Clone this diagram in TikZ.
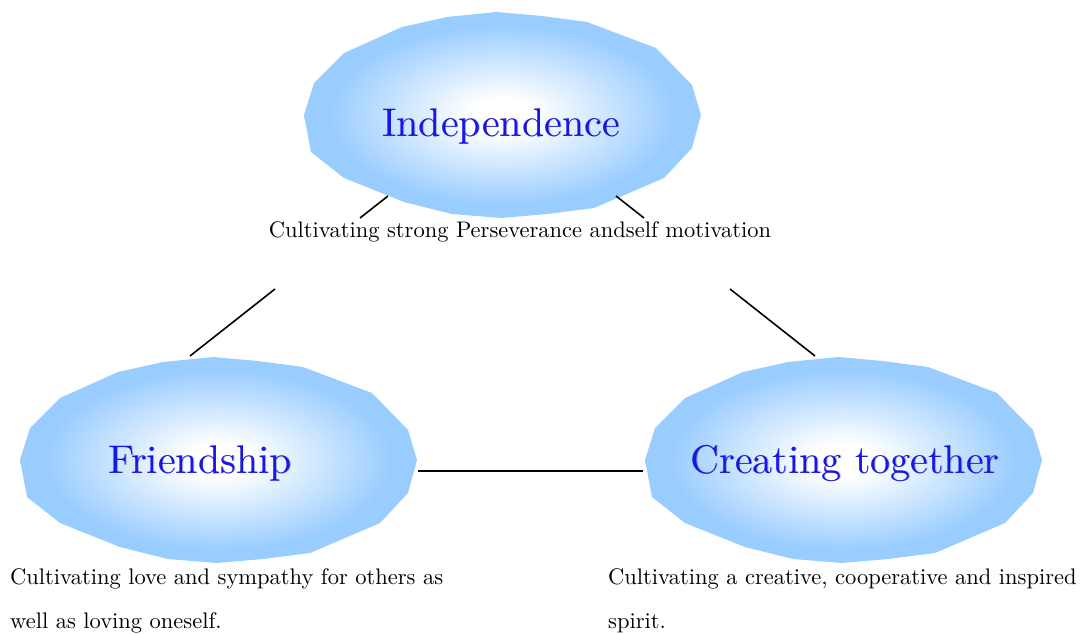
\documentclass[tikz,border=0pt]{standalone}
\usepackage{fontspec}
\setmainfont{lmroman10-regular.otf}
\definecolor{blobblue}{RGB}{153,204,255}
\definecolor{txtblue}{RGB}{22,22,232}
\pgfdeclareradialshading{blobshade}{\pgfpointorigin}{color(0bp)=(white); color(4bp)=(white); color(22bp)=(blobblue); color(50bp)=(blobblue)}
\newcommand\blobshape[1]{%
  \shade[shading=blobshade, shift={#1}]
    (-5,-103) -- (-55,-98) -- (-100,-88) -- (-158,-62) -- (-188,-32) -- (-198,0) -- (-191,37)
    -- (-158,63) -- (-98,87) -- (-50,99) -- (-1,103) -- (45,99) -- (92,93) -- (162,63) -- (190,33)
    -- (199,0) -- (190,-30) -- (154,-67) -- (85,-93) -- (40,-99) -- cycle;}
\begin{document}
\begin{tikzpicture}[x=1pt,y=-1pt,
  blobtext/.style={text=txtblue, font=\fontsize{40}{48}\selectfont, inner sep=0pt, anchor=base},
  blobglow/.style={text=black!60, opacity=0.45, font=\fontsize{40}{48}\selectfont, inner sep=0pt, anchor=base},
  desc/.style={font=\fontsize{22.5}{44}\selectfont, inner sep=0pt, align=left},
  link/.style={draw=black, line width=1.6pt}]
\useasboundingbox (0,0) rectangle (1081,634);
% blobs
\blobshape{(502,115)}
\blobshape{(218,460)}
\blobshape{(843,460)}
% titles
\node[blobglow] at (501.8,136.8) {Independence};
\node[blobtext] (ind) at (501,136) {Independence};
\node[blobglow] at (200.8,473.8) {Friendship};
\node[blobtext] (fri) at (200,473) {Friendship};
\node[blobglow] at (845.8,473.8) {Creating together};
\node[blobtext] (cre) at (845,473) {Creating together};
% descriptions
\node[desc, anchor=base] (indlab) at (520,237) {Cultivating strong Perseverance andself motivation};
\node[desc, anchor=north west] (frilab) at (10,568.5) {Cultivating love and sympathy for others as\\well as loving oneself.};
\node[desc, anchor=north west] (crelab) at (608,568.5) {Cultivating a creative, cooperative and inspired\\spirit.};
% connector ends
\coordinate (ind-sw) at (388,196);
\coordinate (ind-se) at (616,196);
\coordinate (lab-w) at (360,218);
\coordinate (lab-e) at (644,218);
\coordinate (left-top) at (275,289);
\coordinate (fri-ne) at (190,356);
\coordinate (right-top) at (730,289);
\coordinate (cre-nw) at (815,356);
\coordinate (fri-e) at (418,471);
\coordinate (cre-w) at (643,471);
\draw[link] (ind-sw) -- (lab-w);
\draw[link] (ind-se) -- (lab-e);
\draw[link] (left-top) -- (fri-ne);
\draw[link] (right-top) -- (cre-nw);
\draw[link] (fri-e) -- (cre-w);
\end{tikzpicture}
\end{document}
